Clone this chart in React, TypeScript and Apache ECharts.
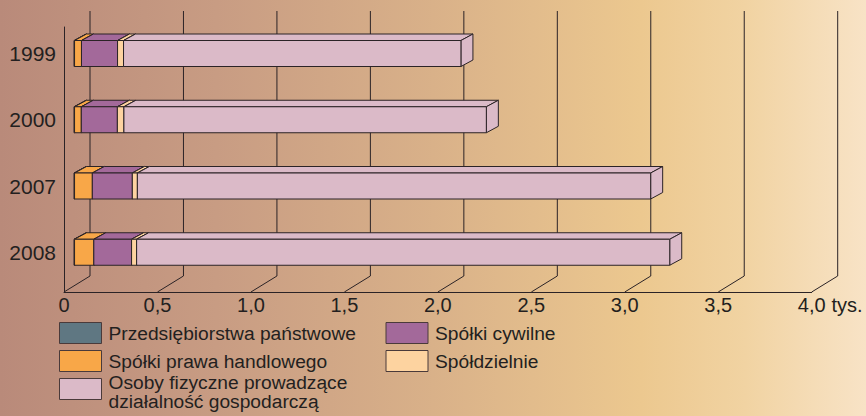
import React, { useEffect, useRef } from "react";
import * as echarts from "echarts";

// ---- data (thousands) ----
const categories = ["1999", "2000", "2007", "2008"];
const przedsiebiorstwaPanstwowe = [0.003, 0.003, 0.003, 0.003];
const spolkiPrawaHandlowego = [0.037, 0.036, 0.095, 0.103];
const spolkiCywilne = [0.193, 0.193, 0.214, 0.202];
const spoldzielnie = [0.032, 0.035, 0.027, 0.027];
const osobyFizyczne = [1.805, 1.939, 2.746, 2.852];
const xTicks = [0, 0.5, 1, 1.5, 2, 2.5, 3, 3.5, 4];
const unitLabel = "tys.";

const FONT = "'Liberation Sans', Arial, Helvetica, sans-serif";
const TEXT = "#231f20";
const EDGE = "#2b2326";
const Y_MIN = -0.4;
const Y_MAX = 3.6;
// 3D depth of the back wall / of the bars
const GDX = 26, GDY = -16;
const BDX = 12, BDY = -6.5;
const BAR_SHIFT = 10;
const BAR_H = 26;

export default function App() {
  const ref = useRef<HTMLDivElement>(null);
  useEffect(() => {
    if (!ref.current) return;
    const chart = echarts.init(ref.current, null, { renderer: "svg" });

    const defs = [
      { name: "Przedsiębiorstwa państwowe", values: przedsiebiorstwaPanstwowe, color: "#5f7782" },
      { name: "Spółki prawa handlowego", values: spolkiPrawaHandlowego, color: "#f8a748" },
      { name: "Spółki cywilne", values: spolkiCywilne, color: "#a3699a" },
      { name: "Spółdzielnie", values: spoldzielnie, color: "#fdd3a0" },
      { name: "Osoby fizyczne prowadzące\ndziałalność gospodarczą", values: osobyFizyczne, color: "#dbbac8" },
    ];
    const multiLineName = defs[4].name;
    const cum = categories.map(() => 0);
    const barSeries = defs.map((d) => {
      const data = d.values.map((v, i) => {
        const s = cum[i];
        cum[i] += v;
        return [s, cum[i], i];
      });
      return {
        type: "custom",
        name: d.name,
        clip: false,
        itemStyle: { color: d.color },
        encode: { x: [0, 1], y: 2 },
        data,
        renderItem: (params: any, api: any) => {
          const s = api.value(0), e = api.value(1), c = api.value(2);
          const p0 = api.coord([s, c]);
          const p1 = api.coord([e, c]);
          const x0 = p0[0] + BAR_SHIFT, x1 = p1[0] + BAR_SHIFT;
          const top = p0[1] - BAR_H / 2, bot = p0[1] + BAR_H / 2;
          const st = { fill: d.color, stroke: EDGE, lineWidth: 1 };
          return {
            type: "group",
            children: [
              { type: "polygon", shape: { points: [[x0, top], [x0 + BDX, top + BDY], [x1 + BDX, top + BDY], [x1, top]] }, style: st },
              { type: "polygon", shape: { points: [[x1, top], [x1 + BDX, top + BDY], [x1 + BDX, bot + BDY], [x1, bot]] }, style: st },
              { type: "rect", shape: { x: x0, y: top, width: x1 - x0, height: bot - top }, style: st },
            ],
          };
        },
      };
    });

    const gridSeries = {
      type: "custom",
      name: "grid3d",
      clip: false,
      silent: true,
      encode: { x: 0, y: 1 },
      data: xTicks.map((v) => [v, Y_MAX]),
      renderItem: (params: any, api: any) => {
        const v = api.value(0);
        const b = api.coord([v, Y_MAX]);
        const t = api.coord([v, Y_MIN]);
        return {
          type: "polyline",
          shape: { points: [[b[0], b[1]], [b[0] + GDX, b[1] + GDY], [b[0] + GDX, t[1] + GDY]] },
          style: { stroke: EDGE, lineWidth: 1, fill: null },
        };
      },
    };

    chart.setOption({
      animation: false,
      backgroundColor: "transparent",
      grid: { left: 64, right: 54.3, top: 27, bottom: 124, containLabel: false },
      xAxis: {
        type: "value",
        min: 0,
        max: 4,
        interval: 0.5,
        name: unitLabel,
        nameLocation: "end",
        nameGap: 18,
        nameTextStyle: { color: TEXT, fontSize: 20, fontFamily: FONT, align: "left", verticalAlign: "top", padding: [3, 0, 0, 0] },
        axisLine: { show: true, onZero: false, lineStyle: { color: EDGE, width: 1 } },
        axisTick: { show: false },
        splitLine: { show: false },
        axisLabel: {
          color: TEXT,
          fontSize: 20,
          fontFamily: FONT,
          margin: 3,
          formatter: (v: number) => (v === 0 ? "0" : v.toFixed(1).replace(".", ",")),
        },
      },
      yAxis: {
        type: "value",
        inverse: true,
        min: Y_MIN,
        max: Y_MAX,
        interval: 0.2,
        axisLine: { show: true, onZero: false, lineStyle: { color: EDGE, width: 1 } },
        axisTick: { show: false },
        splitLine: { show: false },
        axisLabel: {
          color: TEXT,
          fontSize: 21,
          fontFamily: FONT,
          margin: 8,
          formatter: (v: number) => {
            const r = Math.round(v);
            return Math.abs(v - r) < 1e-6 && r >= 0 && r < categories.length ? categories[r] : "";
          },
        },
      },
      legend: {
        left: 59,
        top: 322,
        width: 700,
        padding: 0,
        orient: "horizontal",
        itemWidth: 42,
        itemHeight: 21,
        itemGap: 6,
        icon: "rect",
        selectedMode: false,
        itemStyle: { borderColor: "#4a3a3a", borderWidth: 1 },
        textStyle: {
          color: TEXT,
          fontSize: 19.2,
          fontFamily: FONT,
          width: 271,
          lineHeight: 19.2,
          padding: [0, 0, 0, 2],
          rich: { s: { lineHeight: 6, fontSize: 4 } },
        },
        formatter: (name: string) => (name === multiLineName ? "{s| }\n" + name : name),
        data: [defs[0].name, defs[2].name, defs[1].name, defs[3].name, defs[4].name],
      },
      series: [gridSeries, ...barSeries],
    });
    return () => chart.dispose();
  }, []);

  return (
    <div
      ref={ref}
      style={{
        position: "fixed",
        left: 0,
        top: 0,
        width: 866,
        height: 416,
        background:
          "linear-gradient(to right, #b98a7a 0%, #c89c83 25%, #d9b189 50%, #ecc88f 74%, #f1d3a2 86%, #f8e3c6 100%)",
      }}
    />
  );
}
